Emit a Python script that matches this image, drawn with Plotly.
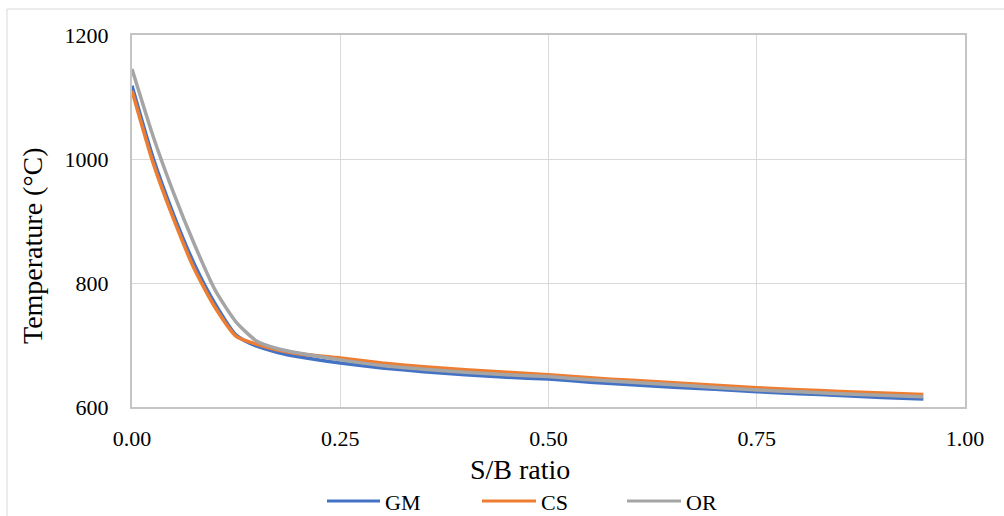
import plotly.graph_objects as go

# S/B ratio sweep and resulting temperature (°C) for each case
sb_ratio = [0, 0.025, 0.05, 0.075, 0.1, 0.125, 0.15, 0.175, 0.2, 0.25, 0.3, 0.35,
            0.4, 0.45, 0.5, 0.55, 0.6, 0.65, 0.7, 0.75, 0.8, 0.85, 0.9, 0.95]
temp_gm = [1118, 1003, 910, 830, 766, 716, 698, 688, 681, 671, 663, 657,
           652, 648, 645, 640, 636, 632, 628.5, 624.7, 621.5, 618.5, 615.5, 613]
temp_cs = [1110, 995, 903, 822, 760, 714, 701, 692, 686, 679, 671, 665,
           660, 656, 652, 647, 643, 639, 635, 631, 628, 625, 622.5, 620]
temp_or = [1145, 1038, 945, 862, 788, 737, 706, 694, 687, 676, 667, 661,
           656, 652, 649, 644, 640, 636, 631.5, 627.5, 624.5, 621.5, 619, 616.5]

series_names = ["GM", "CS", "OR"]
series_colors = ["#4472C4", "#ED7D31", "#A5A5A5"]
x_ticks = [0, 0.25, 0.5, 0.75, 1.0]
y_ticks = [600, 800, 1000, 1200]

FONT = "Liberation Serif"
W, H = 1004, 516
L, R, T, B = 132, 39, 35, 109
PW, PH = W - L - R, H - T - B


def px(xp):
    return (xp - L) / PW


def py(yp):
    return (H - B - yp) / PH


fig = go.Figure()
for name, ys, col in zip(series_names, [temp_gm, temp_cs, temp_or], series_colors):
    fig.add_trace(go.Scatter(
        x=sb_ratio, y=ys, name=name, mode="lines",
        line=dict(color=col, width=3.5, shape="spline", smoothing=0.6),
        showlegend=False,
    ))

shapes = [
    # outer chart frame
    dict(type="rect", xref="paper", yref="paper",
         x0=px(7), x1=px(1012), y0=py(9), y1=py(530),
         line=dict(color="#d9d9d9", width=1), layer="below"),
]
annotations = [
    dict(text="Temperature (°C)", textangle=-90, xref="paper", yref="paper",
         x=px(33), y=py(246), xanchor="center", yanchor="middle",
         showarrow=False, font=dict(family=FONT, size=28, color="black")),
    dict(text="S/B ratio", xref="paper", yref="paper",
         x=px(520), y=py(469), xanchor="center", yanchor="middle",
         showarrow=False, font=dict(family=FONT, size=28, color="black")),
]

# legend row below the axis title
legend_lines = [(327, 380), (482, 536), (627, 681)]
legend_y = 501
for (x0, x1), name, col in zip(legend_lines, series_names, series_colors):
    shapes.append(dict(type="line", xref="paper", yref="paper",
                       x0=px(x0), x1=px(x1), y0=py(legend_y), y1=py(legend_y),
                       line=dict(color=col, width=3)))
    annotations.append(dict(text=name, xref="paper", yref="paper",
                            x=px(x1 + 3), y=py(legend_y + 1), xanchor="left", yanchor="middle",
                            showarrow=False,
                            font=dict(family=FONT, size=22, color="black")))

fig.update_layout(
    width=W, height=H, autosize=False,
    margin=dict(l=L, r=R, t=T, b=B),
    paper_bgcolor="white", plot_bgcolor="white",
    font=dict(family=FONT, size=22, color="black"),
    shapes=shapes, annotations=annotations,
    xaxis=dict(range=[0, 1], tickvals=x_ticks, tickformat=".2f",
               showgrid=True, gridcolor="#d9d9d9", gridwidth=1,
               showline=True, linecolor="#c4c4c4", linewidth=2, mirror=True,
               ticks="", ticklabelstandoff=11, zeroline=False,
               tickfont=dict(family=FONT, size=22, color="black")),
    yaxis=dict(range=[600, 1200], tickvals=y_ticks,
               showgrid=True, gridcolor="#d9d9d9", gridwidth=1,
               showline=True, linecolor="#c4c4c4", linewidth=2, mirror=True,
               ticks="", ticklabelstandoff=17, zeroline=False,
               tickfont=dict(family=FONT, size=22, color="black")),
)

fig.write_html("out.html")
